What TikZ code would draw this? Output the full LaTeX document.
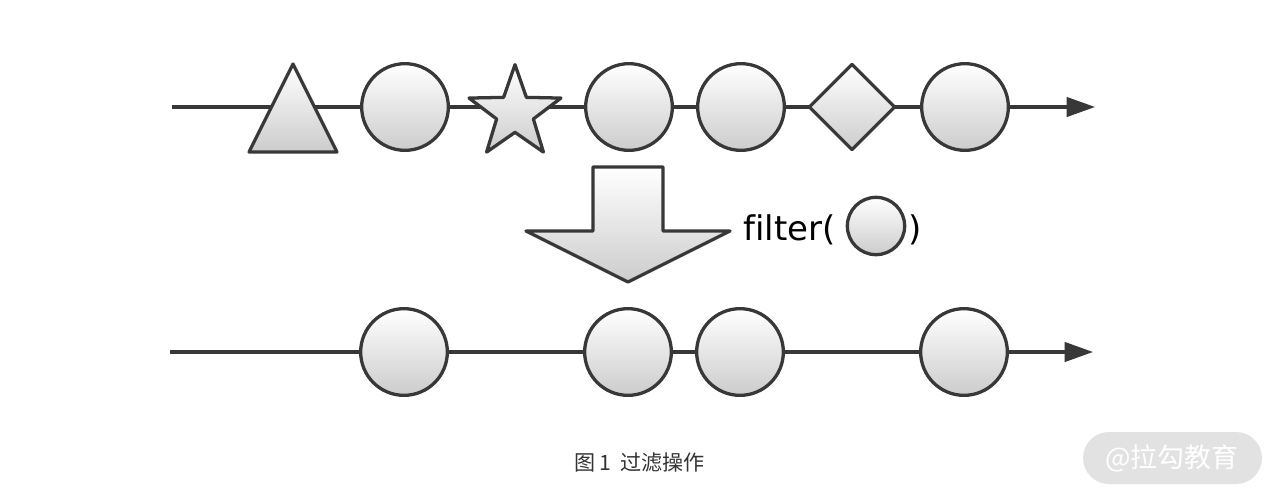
\documentclass[tikz,border=0pt]{standalone}
\usepackage{fontspec}
\setmainfont{DejaVu Sans}
\newfontfamily\cjk{Noto Sans CJK SC}
\usepackage{tikz}
\usetikzlibrary{shapes,calc,positioning,arrows.meta}

\definecolor{linegray}{HTML}{383838}
\definecolor{capgray}{HTML}{333333}
\definecolor{markgray}{HTML}{E2E2E2}

\tikzset{
  marble/.style={draw=linegray, line width=2.8pt, line join=round, top color=white, bottom color=black!20, inner sep=0pt},
  ball/.style={marble, circle, minimum size=2.6cm},
  timeline/.style={draw=linegray, line width=2.8pt, -{Triangle[length=0.85cm,width=0.58cm]}}
}

\begin{document}
\begin{tikzpicture}[x=0.03cm,y=-0.03cm]
        \fill[white] (0,0) rectangle (1280,500);
        % source stream
        \coordinate (s1) at (172,107);
        \coordinate (e1) at (1095,107);
        \draw[timeline] (s1) -- (e1);
        \draw[marble] (293,64) coordinate (tri) -- (337,152) -- (249,152) -- cycle;
        \node[ball] (c1) at (405,107) {};
        \node[marble, star, star points=5, star point ratio=2.5, minimum size=2.9cm] (st) at (515,113) {};
        \node[ball] (c2) at (629,107) {};
        \node[ball] (c3) at (741,107) {};
        \node[marble, diamond, minimum size=2.6cm] (dm) at (852,107) {};
        \node[ball] (c4) at (965,107) {};
        % operator
        \draw[marble] (593,167) coordinate (op) -- (663,167) -- (663,231) -- (730,231)
              -- (628,282) -- (526,231) -- (593,231) -- cycle;
        \node[anchor=base east, font=\fontsize{29}{31}\selectfont, text=black, inner sep=0pt] (fl) at (836,240) {f\kern0ptilter(};
        \node[marble, circle, minimum size=1.72cm] (fc) at (876,226) {};
        \node[anchor=base west, font=\fontsize{29}{31}\selectfont, text=black, inner sep=0pt] (fr) at (908,240) {)};
        % result stream
        \coordinate (s2) at (170,352);
        \coordinate (e2) at (1093,352);
        \draw[timeline] (s2) -- (e2);
        \node[ball] (r1) at (404,352) {};
        \node[ball] (r2) at (628,352) {};
        \node[ball] (r3) at (740,352) {};
        \node[ball] (r4) at (964,352) {};
        % caption
        \node[font=\cjk\fontsize{18}{21}\selectfont, text=capgray] (cap) at (640,463) {图\,1\ \ 过滤操作};
        \fill[markgray, rounded corners=0.78cm] (1083,432) rectangle (1262,484);
        \node[font=\cjk\fontsize{23}{26}\selectfont, text=white] (wm) at (1172,458) {@拉勾教育};
\end{tikzpicture}
\end{document}
